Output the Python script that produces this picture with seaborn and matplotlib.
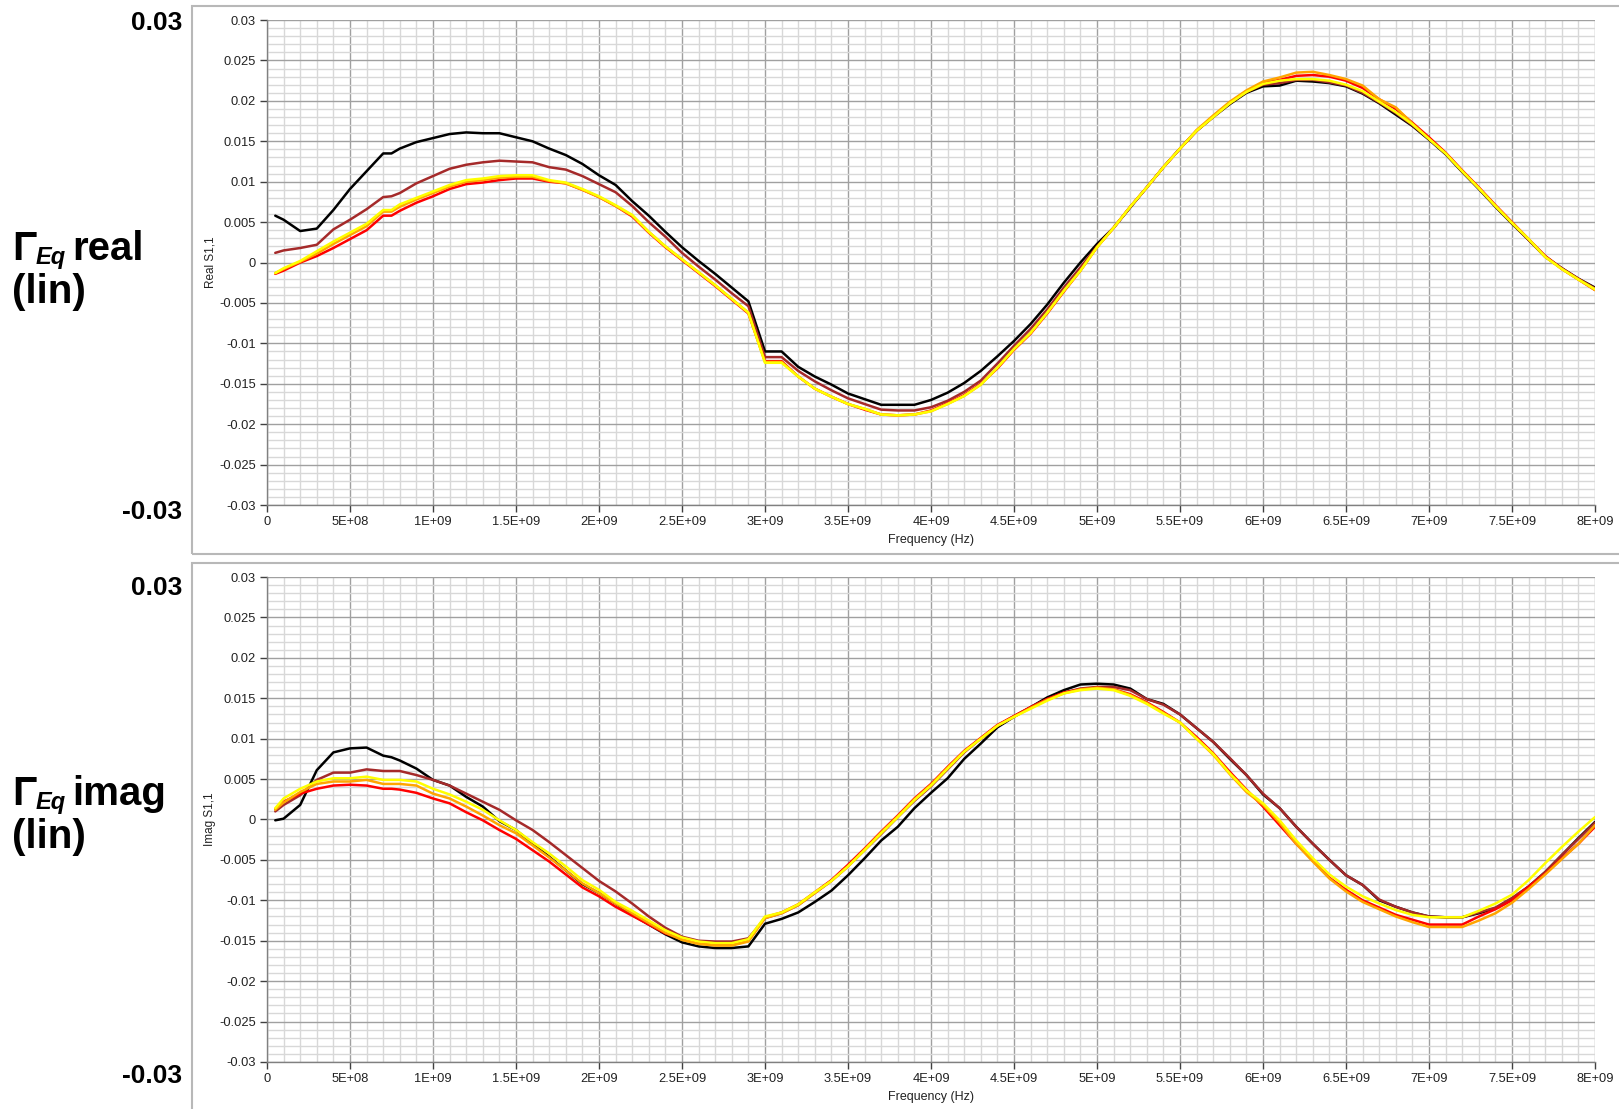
import pandas as pd
import matplotlib
matplotlib.use('Agg')
import matplotlib.pyplot as plt
from matplotlib.ticker import MultipleLocator, FuncFormatter
from matplotlib.patches import Rectangle
import seaborn as sns

# frequency points (GHz), values below in units of 1e-3
freq_ghz = [0.05, 0.1, 0.2, 0.3, 0.4, 0.5, 0.6, 0.7, 0.75, 0.8,
            0.9, 1.0, 1.1, 1.2, 1.3, 1.4, 1.5, 1.6, 1.7, 1.8,
            1.9, 2.0, 2.1, 2.2, 2.3, 2.4, 2.5, 2.6, 2.7, 2.8,
            2.9, 3.0, 3.1, 3.2, 3.3, 3.4, 3.5, 3.6, 3.7, 3.8,
            3.9, 4.0, 4.1, 4.2, 4.3, 4.4, 4.5, 4.6, 4.7, 4.8,
            4.9, 5.0, 5.1, 5.2, 5.3, 5.4, 5.5, 5.6, 5.7, 5.8,
            5.9, 6.0, 6.1, 6.2, 6.3, 6.4, 6.5, 6.6, 6.7, 6.8,
            6.9, 7.0, 7.1, 7.2, 7.3, 7.4, 7.5, 7.6, 7.7, 7.8,
            7.9, 8.0]

# Real S1,1
real_black = [5.8, 5.3, 3.9, 4.2, 6.5, 9.1, 11.3, 13.5, 13.5, 14.1,
              14.9, 15.4, 15.9, 16.1, 16.0, 16.0, 15.5, 15.0, 14.1, 13.3,
              12.2, 10.8, 9.6, 7.6, 5.8, 3.8, 1.9, 0.2, -1.4, -3.1,
              -4.8, -11.0, -11.0, -12.9, -14.1, -15.1, -16.2, -16.9, -17.6, -17.6,
              -17.6, -17.0, -16.1, -14.9, -13.4, -11.6, -9.7, -7.6, -5.2, -2.5,
              0.0, 2.3, 4.3, 6.8, 9.3, 11.8, 14.1, 16.3, 18.0, 19.6,
              21.0, 21.8, 21.9, 22.5, 22.4, 22.2, 21.8, 20.9, 19.7, 18.3,
              16.9, 15.2, 13.4, 11.2, 9.1, 6.9, 4.8, 2.8, 0.7, -0.7,
              -2.0, -3.1]
real_brown = [1.2, 1.5, 1.8, 2.2, 4.1, 5.3, 6.6, 8.1, 8.2, 8.6,
              9.8, 10.7, 11.6, 12.1, 12.4, 12.6, 12.5, 12.4, 11.8, 11.5,
              10.7, 9.7, 8.7, 7.0, 5.0, 3.2, 1.2, -0.5, -2.1, -3.8,
              -5.4, -11.7, -11.7, -13.4, -14.7, -15.8, -16.8, -17.5, -18.2, -18.3,
              -18.3, -17.9, -17.1, -16.0, -14.6, -12.5, -10.3, -8.2, -5.8, -3.1,
              -0.6, 2.0, 4.3, 6.9, 9.3, 11.8, 14.1, 16.3, 18.0, 19.7,
              21.1, 22.0, 22.2, 22.6, 22.6, 22.3, 21.9, 21.0, 19.8, 18.5,
              17.0, 15.3, 13.5, 11.3, 9.2, 7.0, 4.9, 2.8, 0.8, -0.7,
              -2.0, -3.2]
real_red = [-1.4, -1.0, 0.0, 0.8, 1.8, 2.9, 4.0, 5.8, 5.8, 6.4,
            7.4, 8.2, 9.1, 9.7, 9.9, 10.2, 10.4, 10.4, 10.0, 9.8,
            9.0, 8.1, 7.0, 5.7, 3.7, 1.9, 0.3, -1.3, -2.9, -4.6,
            -6.3, -12.2, -12.2, -14.1, -15.6, -16.6, -17.5, -18.2, -18.8, -18.9,
            -18.8, -18.3, -17.4, -16.4, -15.0, -13.1, -10.8, -8.8, -6.3, -3.6,
            -1.0, 1.9, 4.3, 6.9, 9.3, 11.8, 14.1, 16.3, 18.1, 19.8,
            21.2, 22.2, 22.6, 23.1, 23.2, 23.0, 22.5, 21.6, 20.2, 19.0,
            17.3, 15.5, 13.6, 11.4, 9.3, 7.1, 5.0, 2.9, 0.8, -0.8,
            -2.1, -3.4]
real_orange = [-1.3, -0.8, 0.1, 1.1, 2.3, 3.4, 4.5, 6.3, 6.3, 6.9,
               7.8, 8.6, 9.4, 10.0, 10.2, 10.5, 10.6, 10.6, 10.1, 9.8,
               9.0, 8.1, 7.0, 5.8, 3.8, 2.0, 0.4, -1.2, -2.8, -4.5,
               -6.2, -12.3, -12.3, -14.1, -15.6, -16.6, -17.5, -18.1, -18.8, -18.9,
               -18.8, -18.4, -17.5, -16.5, -15.1, -13.0, -10.7, -8.7, -6.2, -3.5,
               -1.0, 1.9, 4.3, 6.9, 9.3, 11.8, 14.1, 16.4, 18.2, 19.9,
               21.3, 22.4, 22.9, 23.5, 23.6, 23.2, 22.7, 21.9, 20.2, 19.2,
               17.2, 15.3, 13.5, 11.3, 9.2, 7.0, 4.9, 2.9, 0.7, -0.8,
               -2.1, -3.4]
real_yellow = [-1.3, -0.7, 0.2, 1.4, 2.6, 3.7, 4.8, 6.5, 6.5, 7.2,
               8.0, 8.8, 9.6, 10.2, 10.4, 10.7, 10.8, 10.8, 10.2, 9.9,
               9.1, 8.2, 7.1, 5.9, 3.8, 2.0, 0.4, -1.2, -2.8, -4.5,
               -6.2, -12.4, -12.4, -14.1, -15.6, -16.6, -17.5, -18.1, -18.8, -18.9,
               -18.8, -18.4, -17.5, -16.5, -15.1, -13.0, -10.7, -8.7, -6.2, -3.5,
               -1.0, 1.9, 4.3, 6.9, 9.3, 11.8, 14.1, 16.3, 18.0, 19.7,
               21.1, 22.1, 22.5, 22.7, 22.7, 22.5, 22.0, 21.2, 19.9, 18.6,
               17.1, 15.3, 13.5, 11.3, 9.2, 7.0, 4.9, 2.9, 0.7, -0.8,
               -2.1, -3.3]

# Imag S1,1
imag_black = [-0.1, 0.1, 1.8, 6.1, 8.3, 8.8, 8.9, 7.9, 7.7, 7.3,
              6.3, 4.9, 4.2, 2.8, 1.6, -0.2, -1.3, -3.0, -4.6, -6.3,
              -8.0, -9.1, -10.4, -11.8, -13.0, -14.2, -15.2, -15.7, -15.9, -15.9,
              -15.7, -12.9, -12.3, -11.5, -10.2, -8.8, -6.9, -4.8, -2.6, -0.9,
              1.4, 3.3, 5.1, 7.5, 9.4, 11.4, 12.7, 13.9, 15.1, 16.0,
              16.7, 16.8, 16.7, 16.2, 14.9, 14.3, 13.0, 11.3, 9.6, 7.5,
              5.5, 3.1, 1.4, -0.9, -3.0, -5.0, -6.9, -8.1, -10.0, -10.8,
              -11.5, -12.0, -12.1, -12.1, -11.6, -11.0, -9.8, -8.3, -6.5, -4.4,
              -2.3, -0.3]
imag_brown = [1.0, 1.8, 3.0, 4.9, 5.8, 5.8, 6.2, 6.0, 6.0, 6.0,
              5.5, 4.9, 4.2, 3.2, 2.2, 1.2, -0.1, -1.3, -2.8, -4.4,
              -6.0, -7.6, -8.9, -10.4, -12.0, -13.4, -14.5, -15.0, -15.1, -15.1,
              -14.7, -12.2, -11.6, -10.6, -9.1, -7.6, -5.8, -3.8, -1.8, 0.3,
              2.3, 4.1, 6.2, 8.3, 10.0, 11.6, 12.8, 13.9, 14.9, 15.7,
              16.2, 16.4, 16.4, 16.0, 14.9, 14.2, 13.0, 11.3, 9.6, 7.6,
              5.5, 3.2, 1.4, -0.9, -3.0, -5.0, -6.9, -8.1, -9.9, -10.8,
              -11.5, -12.0, -12.1, -12.1, -11.5, -10.9, -9.7, -8.3, -6.5, -4.4,
              -2.4, -0.4]
imag_red = [1.3, 2.2, 3.2, 3.8, 4.2, 4.3, 4.2, 3.8, 3.8, 3.7,
            3.3, 2.6, 2.0, 0.9, -0.1, -1.3, -2.4, -3.8, -5.2, -6.8,
            -8.4, -9.5, -10.8, -11.9, -13.0, -14.1, -14.8, -15.3, -15.5, -15.5,
            -15.0, -12.1, -11.5, -10.5, -9.0, -7.5, -5.6, -3.6, -1.5, 0.5,
            2.6, 4.4, 6.5, 8.5, 10.1, 11.7, 12.8, 13.9, 14.9, 15.7,
            16.1, 16.3, 16.1, 15.5, 14.5, 13.3, 12.0, 10.2, 8.2, 5.9,
            3.7, 1.6, -0.7, -3.0, -5.1, -7.2, -8.7, -10.0, -10.9, -11.8,
            -12.4, -13.0, -13.0, -13.0, -12.0, -11.1, -10.0, -8.3, -6.7, -4.8,
            -3.0, -0.9]
imag_orange = [1.2, 2.1, 3.4, 4.4, 4.7, 4.7, 4.9, 4.4, 4.4, 4.4,
               4.2, 3.2, 2.6, 1.6, 0.5, -0.7, -1.7, -3.2, -4.7, -6.3,
               -7.9, -9.1, -10.4, -11.6, -12.8, -14.0, -14.9, -15.4, -15.6, -15.6,
               -15.1, -12.2, -11.6, -10.6, -9.1, -7.6, -5.8, -3.7, -1.6, 0.4,
               2.5, 4.3, 6.4, 8.4, 10.0, 11.6, 12.7, 13.8, 14.8, 15.6,
               16.1, 16.3, 16.1, 15.4, 14.4, 13.2, 12.0, 10.0, 8.0, 5.6,
               3.4, 1.8, -0.4, -3.0, -5.2, -7.3, -8.9, -10.2, -11.1, -12.0,
               -12.7, -13.3, -13.3, -13.3, -12.5, -11.6, -10.3, -8.6, -6.8, -4.9,
               -3.0, -0.7]
imag_yellow = [1.4, 2.6, 3.8, 4.7, 5.1, 5.1, 5.3, 4.9, 4.9, 4.9,
               4.7, 3.8, 3.1, 2.2, 1.2, -0.1, -1.3, -2.8, -4.2, -5.8,
               -7.5, -8.7, -10.2, -11.3, -12.5, -13.7, -14.6, -15.1, -15.3, -15.3,
               -14.8, -12.0, -11.5, -10.5, -9.0, -7.6, -5.8, -3.8, -1.7, 0.3,
               2.4, 4.2, 6.3, 8.4, 10.0, 11.6, 12.7, 13.7, 14.7, 15.6,
               16.0, 16.2, 16.0, 15.3, 14.3, 13.1, 12.0, 10.0, 8.1, 5.7,
               3.6, 2.0, -0.1, -2.6, -4.8, -6.8, -8.3, -9.5, -10.4, -11.2,
               -11.8, -12.1, -12.1, -12.1, -11.3, -10.4, -9.3, -7.5, -5.4, -3.4,
               -1.5, 0.3]

trace_names = ['black', 'brown', 'red', 'orange', 'yellow']
trace_colors = {'black': '#000000', 'brown': '#a52a2a', 'red': '#ff0000',
                'orange': '#ffa500', 'yellow': '#ffff00'}

real_traces = dict(zip(trace_names, [real_black, real_brown, real_red, real_orange, real_yellow]))
imag_traces = dict(zip(trace_names, [imag_black, imag_brown, imag_red, imag_orange, imag_yellow]))


def to_long(traces):
    rows = []
    for name in trace_names:
        for f, v in zip(freq_ghz, traces[name]):
            rows.append((f * 1e9, v * 1e-3, name))
    return pd.DataFrame(rows, columns=['freq', 'value', 'trace'])


def fmt_hz(v, pos):
    if abs(v) < 1:
        return '0'
    mant, exp = f'{v:.1E}'.split('E')
    mant = mant.rstrip('0').rstrip('.')
    return f'{mant}E{exp}'


def fmt_lin(v, pos):
    return f'{round(v, 3) + 0:g}'


sns.set_style('white')
plt.rcParams['font.family'] = ['Liberation Sans', 'DejaVu Sans']

fig = plt.figure(figsize=(16.19, 11.09), dpi=100)

# panel frames
fig.patches.append(Rectangle((0.1186, 0.5005), 0.9, 0.4941, transform=fig.transFigure,
                             fill=False, ec='#b8b8b8', lw=1.5, zorder=0))
fig.patches.append(Rectangle((0.1186, -0.01), 0.9, 0.5023, transform=fig.transFigure,
                             fill=False, ec='#b8b8b8', lw=1.5, zorder=0))

ax_re = fig.add_axes([0.1649, 0.5446, 0.8203, 0.4373])
ax_im = fig.add_axes([0.1649, 0.0424, 0.8203, 0.4373])

for ax, traces, ylab in [(ax_re, real_traces, 'Real S1,1'), (ax_im, imag_traces, 'Imag S1,1')]:
    df = to_long(traces)
    sns.lineplot(data=df, x='freq', y='value', hue='trace', hue_order=trace_names,
                 palette=trace_colors, linewidth=1.8, legend=False, ax=ax)
    ax.set_xlim(0, 8e9)
    ax.set_ylim(-0.03, 0.03)
    ax.xaxis.set_major_locator(MultipleLocator(5e8))
    ax.xaxis.set_minor_locator(MultipleLocator(1e8))
    ax.yaxis.set_major_locator(MultipleLocator(0.005))
    ax.yaxis.set_minor_locator(MultipleLocator(0.001))
    ax.xaxis.set_major_formatter(FuncFormatter(fmt_hz))
    ax.yaxis.set_major_formatter(FuncFormatter(fmt_lin))
    ax.grid(which='major', color='#a0a0a0', lw=1.0)
    ax.grid(which='minor', color='#d8d8d8', lw=1.0)
    ax.set_axisbelow(True)
    for side in ['top', 'right']:
        ax.spines[side].set_visible(False)
    for side in ['left', 'bottom']:
        ax.spines[side].set_color('#808080')
        ax.spines[side].set_linewidth(1.0)
    ax.tick_params(which='major', direction='out', length=5, width=1, color='#404040',
                   labelsize=9.3, labelcolor='#222222', pad=3, left=True, bottom=True)
    ax.tick_params(which='minor', length=0)
    ax.set_xlabel('Frequency (Hz)', fontsize=9, color='#222222', labelpad=4)
    ax.set_ylabel(ylab, fontsize=8.5, color='#222222', labelpad=2)

# big labels on the left
big = dict(fontsize=29, fontweight='bold', color='black', va='baseline')
for base_y, word in [(260, 'real'), (805, 'imag')]:
    y1 = 1 - base_y / 1109
    y2 = 1 - (base_y + 43) / 1109
    fig.text(12 / 1619, y1, 'Γ', **big)
    fig.text(36 / 1619, 1 - (base_y + 4) / 1109, 'Eq', fontsize=17, fontweight='bold',
             fontstyle='italic', color='black', va='baseline')
    fig.text(72 / 1619, y1, word, **big)
    fig.text(12 / 1619, y2, '(lin)', **big)

lim = dict(fontsize=19, fontweight='bold', color='black', va='baseline', ha='right')
for base_y, txt in [(30, '0.03'), (519, '-0.03'), (595, '0.03'), (1083, '-0.03')]:
    fig.text(182 / 1619, 1 - base_y / 1109, txt, **lim)

fig.savefig('out.png', dpi=100)
